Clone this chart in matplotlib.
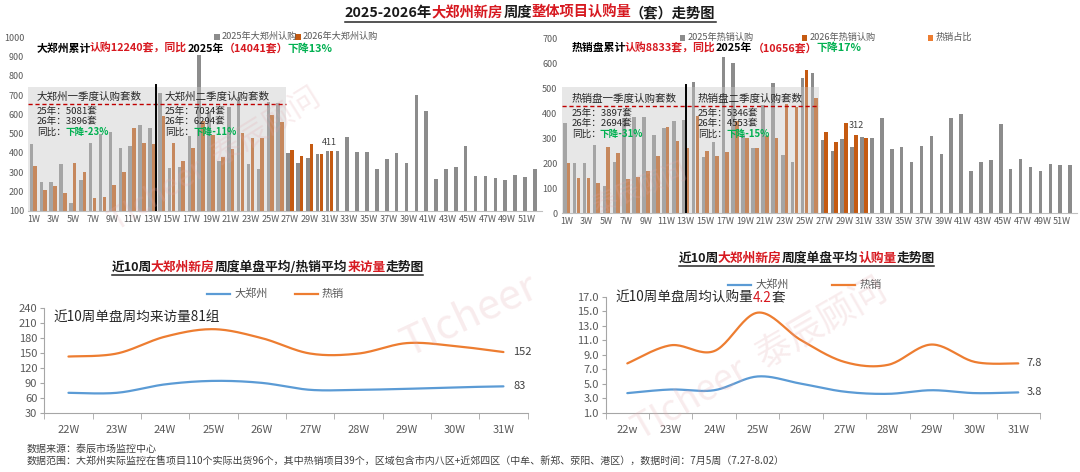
import numpy as np
import matplotlib
matplotlib.use('Agg')
import matplotlib.pyplot as plt
from matplotlib.figure import Figure
from matplotlib.backends.backend_agg import FigureCanvasAgg
from matplotlib.patches import Rectangle
from matplotlib.lines import Line2D

plt.rcParams['font.family'] = ['Noto Sans CJK SC', 'DejaVu Sans']

W, H = 1080, 472

# ---- data ----
weeks = np.arange(1, 53)
week_ticks = list(range(1, 53, 2))
week_labels = [f'{w}W' for w in week_ticks]

zz_2025 = [445, 250, 250, 340, 140, 259, 451, 500, 510, 428, 437, 543, 528,
           712, 320, 328, 486, 908, 610, 360, 640, 690, 340, 315, 665, 660,
           400, 349, 374, 393, 410,
           410, 482, 405, 405, 315, 368, 398, 346, 700, 619, 263, 315, 327,
           436, 282, 280, 271, 259, 285, 277, 315]
zz_2026 = [332, 209, 226, 190, 346, 301, 164, 170, 231, 302, 527, 450, 448,
           590, 451, 360, 423, 567, 495, 377, 418, 504, 475, 475, 597, 562,
           415, 382, 446, 396, 411]

hot_2025 = [360, 200, 200, 273, 109, 207, 380, 385, 385, 313, 343, 370, 372,
            527, 227, 284, 627, 600, 315, 263, 435, 520, 235, 207, 543, 563,
            295, 250, 298, 265, 305,
            300, 383, 256, 267, 207, 271, 309, 236, 383, 396, 169, 207, 213,
            356, 177, 217, 185, 169, 196, 193, 193]
hot_2026 = [200, 143, 143, 123, 267, 243, 136, 144, 169, 228, 345, 290, 263,
            390, 249, 230, 245, 370, 300, 263, 310, 300, 436, 427, 573, 460,
            325, 285, 363, 312, 300]

recent_labels = ['22W', '23W', '24W', '25W', '26W', '27W', '28W', '29W', '30W', '31W']
visit_zz = [70, 70, 87, 94, 90, 76, 76, 78, 81, 83]
visit_hot = [143, 149, 183, 198, 180, 149, 149, 170, 164, 152]

sub_labels = ['22w', '23W', '24W', '25W', '26W', '27W', '28W', '29W', '30W', '31W']
sub_zz = [3.7, 4.2, 4.1, 6.0, 5.0, 3.9, 3.6, 4.1, 3.7, 3.8]
sub_hot = [7.8, 10.3, 9.5, 14.8, 11.0, 8.0, 7.6, 10.4, 8.0, 7.8]

GRAY = '#8C8C8C'
ORANGE = '#C55A11'
RED = '#D71920'
GREEN = '#00B050'
BLUE = '#5B9BD5'
LORANGE = '#ED7D31'
TXT = '#404040'
TICK = '#595959'

fig = plt.figure(figsize=(W / 100, H / 100), dpi=100)


def fx(px):
    return px / W


def fy(py):
    return 1 - py / H


def add_ax(l, t, r, b):
    return fig.add_axes([l / W, 1 - b / H, (r - l) / W, (b - t) / H])


def ink_right(s, size, weight):
    # draw the string alone on a scratch canvas and find where its ink ends
    sf = Figure(figsize=(12, 0.6), dpi=100)
    FigureCanvasAgg(sf)
    sf.text(10 / 1200, 0.5, s, fontsize=size, fontweight=weight, va='center', color='black')
    sf.canvas.draw()
    img = np.asarray(sf.canvas.buffer_rgba())[:, :, 0]
    cols = np.where((img < 200).any(axis=0))[0]
    return cols.max() + 1 if len(cols) else 10


def rich(x, y, parts, size, weight='normal', ha='left', underline=False):
    # each piece is placed where its first glyph sits in the whole string
    offs = [0.0]
    prefix = parts[0][0]
    for s, _ in parts[1:]:
        c = s[0]
        offs.append(ink_right(prefix + c, size, weight) - ink_right(c, size, weight))
        prefix += s
    total = ink_right(prefix, size, weight) - 10
    x0 = x - total / 2 if ha == 'center' else x
    for (s, c), o in zip(parts, offs):
        fig.text(fx(x0 + o), fy(y), s, color=c, fontsize=size,
                 fontweight=weight, va='center', ha='left')
    if underline:
        uy = y + size * 100 / 72 * 0.62
        fig.add_artist(Line2D([fx(x0), fx(x0 + total)], [fy(uy), fy(uy)],
                              color='#262626', lw=1.1))


def smooth(x, y, n=24):
    x = np.asarray(x, float)
    y = np.asarray(y, float)
    px = np.concatenate([[x[0]], x, [x[-1]]])
    py = np.concatenate([[y[0]], y, [y[-1]]])
    t = np.linspace(0, 1, n, endpoint=False)
    xs, ys = [], []
    for i in range(1, len(px) - 2):
        for arr, out in ((px, xs), (py, ys)):
            a0, a1, a2, a3 = arr[i - 1:i + 3]
            out.extend(0.5 * (2 * a1 + (-a0 + a2) * t
                              + (2 * a0 - 5 * a1 + 4 * a2 - a3) * t ** 2
                              + (-a0 + 3 * a1 - 3 * a2 + a3) * t ** 3))
    xs.append(x[-1])
    ys.append(y[-1])
    return xs, ys


def bar_panel(ax, g, o, ylim, step, box_top, dash_y, vline_x, box_end):
    ax.bar(weeks - 0.19, g, width=0.36, color=GRAY, zorder=2)
    ax.bar(weeks[:len(o)] + 0.19, o, width=0.36, color=ORANGE, zorder=2)
    ax.set_xlim(0.5, 52.5)
    ax.set_ylim(*ylim)
    ax.set_yticks(np.arange(ylim[0], ylim[1] + 1, step))
    ax.set_xticks(week_ticks)
    ax.set_xticklabels(week_labels)
    ax.tick_params(length=0, labelsize=6.5, labelcolor=TICK, pad=3)
    for s in ['top', 'right', 'left']:
        ax.spines[s].set_visible(False)
    ax.spines['bottom'].set_color('#BFBFBF')
    ax.add_patch(Rectangle((0.5, ylim[0]), box_end - 0.5, box_top - ylim[0],
                           facecolor='#C8C8C8', alpha=0.42, lw=0, zorder=3))
    ax.plot([0.5, box_end], [dash_y, dash_y], ls=(0, (3, 2)), color='#C00000',
            lw=1, zorder=4)
    ax.plot([vline_x, vline_x], [ylim[0], box_top + 8], color='black', lw=1.4, zorder=4)


# ---- top left ----
ax1 = add_ax(28.4, 37.3, 541.6, 210.7)
bar_panel(ax1, zz_2025, zz_2026, (100, 1000), 100, 742, 655, 13.4, 26.6)
ax1.text(31, zz_2026[30] + 18, str(zz_2026[30]), ha='center', va='bottom',
         fontsize=6.5, color=TXT, zorder=5)

# ---- top right ----
ax2 = add_ax(561.7, 38.3, 1077, 213.3)
bar_panel(ax2, hot_2025, hot_2026, (0, 700), 100, 507, 430, 13.0, 26.5)
ax2.text(30.2, hot_2026[29] + 20, str(hot_2026[29]), ha='center', va='bottom',
         fontsize=6.5, color=TXT, zorder=5)


def sq_legend(x, y, color, label):
    fig.add_artist(Rectangle((fx(x), fy(y + 3)), 5.5 / W, 5.5 / H,
                             facecolor=color, lw=0))
    fig.text(fx(x + 8), fy(y), label, fontsize=6.6, color=TICK, va='center')


sq_legend(214, 36.5, GRAY, '2025年大郑州认购')
sq_legend(295, 36.5, ORANGE, '2026年大郑州认购')
sq_legend(680, 37.5, GRAY, '2025年热销认购')
sq_legend(802, 37.5, ORANGE, '2026年热销认购')
sq_legend(928, 37.5, LORANGE, '热销占比')

rich(37, 48.5, [('大郑州累计', 'black'), ('认购12240套，同比', RED), ('2025年', 'black'),
                ('（14041套）', RED), ('下降13%', GREEN)], 7.8, weight='bold')
rich(572, 48, [('热销盘累计', 'black'), ('认购8833套，同比', RED), ('2025年', 'black'),
               ('（10656套）', RED), ('下降17%', GREEN)], 7.8, weight='bold')

# box texts
box_txt = [
    (37, ['大郑州一季度认购套数', '25年：5081套', '26年：3896套'], '下降-23%', (96.5, 111, 121.5, 132.5)),
    (165, ['大郑州二季度认购套数', '25年：7034套', '26年：6294套'], '下降-11%', (96.5, 111, 121.5, 132.5)),
    (572, ['热销盘一季度认购套数', '25年：3897套', '26年：2694套'], '下降-31%', (99, 113, 123.5, 134.5)),
    (698, ['热销盘二季度认购套数', '25年：5346套', '26年：4553套'], '下降-15%', (99, 113, 123.5, 134.5)),
]
for x, lines, yoy, ys in box_txt:
    fig.text(fx(x), fy(ys[0]), lines[0], fontsize=7.6, color='#262626', va='center')
    fig.text(fx(x), fy(ys[1]), lines[1], fontsize=6.9, color='#262626', va='center')
    fig.text(fx(x), fy(ys[2]), lines[2], fontsize=6.9, color='#262626', va='center')
    fig.text(fx(x), fy(ys[3]), '同比：', fontsize=6.9, color='#262626', va='center')
    fig.text(fx(x + 28), fy(ys[3]), yoy, fontsize=6.9, color=GREEN,
             fontweight='bold', va='center')

# main title
rich(530, 13, [('2025-2026年', '#1a1a1a'), ('大郑州新房', RED), ('周度', '#1a1a1a'),
               ('整体项目认购量', RED), ('（套）走势图', '#1a1a1a')],
     10.3, weight='bold', ha='center', underline=True)


# ---- bottom panels ----
def line_panel(ax, labels, a, b, ylim, step, fmt, a_lab, b_lab):
    xs = np.arange(len(labels))
    sx, sy = smooth(xs, a)
    ax.plot(sx, sy, color=BLUE, lw=1.6, solid_capstyle='round')
    sx, sy = smooth(xs, b)
    ax.plot(sx, sy, color=LORANGE, lw=1.6, solid_capstyle='round')
    ax.set_xlim(-0.5, len(labels) - 0.5)
    ax.set_ylim(*ylim)
    ax.set_yticks(np.arange(ylim[0], ylim[1] + 0.01, step))
    ax.yaxis.set_major_formatter(plt.FormatStrFormatter(fmt))
    ax.set_xticks(xs)
    ax.set_xticklabels(labels)
    ax.set_xticks(np.arange(-0.5, len(labels), 1), minor=True)
    ax.tick_params(axis='x', which='major', length=0, labelsize=8, labelcolor=TICK, pad=9)
    ax.tick_params(axis='x', which='minor', length=4, color='#A6A6A6')
    ax.tick_params(axis='y', length=3, color='#A6A6A6', labelsize=8, labelcolor=TICK, pad=2)
    for s in ['top', 'right']:
        ax.spines[s].set_visible(False)
    for s in ['left', 'bottom']:
        ax.spines[s].set_color('#A6A6A6')
    ax.text(9.2, a[-1], a_lab, fontsize=8, color=TXT, va='center')
    ax.text(9.2, b[-1], b_lab, fontsize=8, color=TXT, va='center')


ax3 = add_ax(44.3, 308.3, 527.6, 412.7)
line_panel(ax3, recent_labels, visit_zz, visit_hot, (30, 240), 30, '%d',
           f'{visit_zz[-1]}', f'{visit_hot[-1]}')
fig.text(fx(53), fy(317), '近10周单盘周均来访量81组', fontsize=9.8, color='#262626', va='center')

ax4 = add_ax(605.6, 296.7, 1040, 412.7)
line_panel(ax4, sub_labels, sub_zz, sub_hot, (1.0, 17.0), 2.0, '%.1f',
           f'{sub_zz[-1]:.1f}', f'{sub_hot[-1]:.1f}')
rich(615, 298, [('近10周单盘周均认购量', '#262626'), ('4.2', RED), ('套', '#262626')], 9.8)

rich(267, 267, [('近10周', '#1a1a1a'), ('大郑州新房', RED), ('周度单盘平均/热销平均', '#1a1a1a'),
                ('来访量', RED), ('走势图', '#1a1a1a')], 9.2, weight='bold', ha='center', underline=True)
rich(806, 258, [('近10周', '#1a1a1a'), ('大郑州新房', RED), ('周度单盘平均', '#1a1a1a'),
                ('认购量', RED), ('走势图', '#1a1a1a')], 9.2, weight='bold', ha='center', underline=True)


def line_legend(x, y, color, label):
    fig.add_artist(Line2D([fx(x), fx(x + 23)], [fy(y), fy(y)], color=color, lw=1.6))
    fig.text(fx(x + 27), fy(y), label, fontsize=8, color=TICK, va='center')


line_legend(207, 294, BLUE, '大郑州')
line_legend(295, 294, LORANGE, '热销')
line_legend(728, 284.5, BLUE, '大郑州')
line_legend(832, 284.5, LORANGE, '热销')

# footer
fig.text(fx(27), fy(449), '数据来源：泰辰市场监控中心', fontsize=7.2, color=TXT, va='center')
fig.text(fx(27), fy(462), '数据范围：大郑州实际监控在售项目110个实际出货96个，其中热销项目39个，'
         '区域包含市内八区+近郊四区（中牟、新郑、荥阳、港区），数据时间：7月5周（7.27-8.02）',
         fontsize=7.2, color=TXT, va='center')

# watermarks
wm = dict(color='#E3A9AE', alpha=0.22, ha='center', va='center', zorder=10)
fig.text(fx(215), fy(160), 'TIcheer  泰辰顾问', fontsize=22, rotation=32, **wm)
fig.text(fx(470), fy(315), 'TIcheer', fontsize=30, rotation=25, **wm)
fig.text(fx(760), fy(360), 'TIcheer  泰辰顾问', fontsize=26, rotation=30, **wm)
fig.text(fx(640), fy(190), '泰辰顾问', fontsize=18, rotation=22, **wm)

fig.savefig('out.png', dpi=100)
